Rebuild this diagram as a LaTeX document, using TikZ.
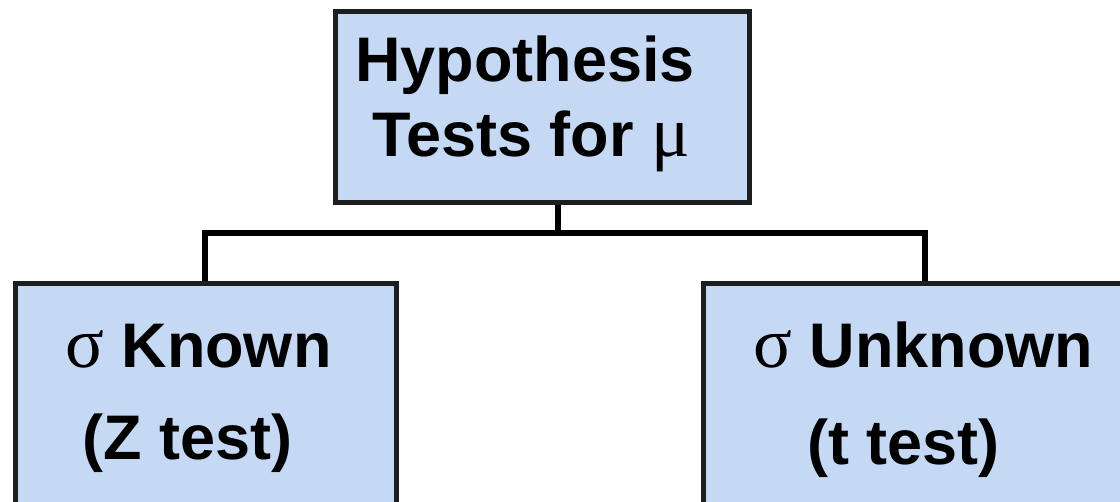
\documentclass[tikz,border=0pt]{standalone}
\usepackage{fontspec}
\setmainfont{Liberation Sans}
\newfontfamily\symfont{Liberation Serif}
\newcommand{\greekch}[1]{{\symfont\mdseries\fontsize{72}{75}\selectfont #1}}
\definecolor{boxfill}{RGB}{198,217,244}
\definecolor{boxline}{RGB}{30,30,30}
\begin{document}
\begin{tikzpicture}[x=1pt,y=-1pt,
  hbox/.style={draw=boxline,fill=boxfill,line width=5pt,line join=miter},
  conn/.style={draw=black,line width=5.5pt},
  lbl/.style={anchor=base west,inner sep=0pt,font=\fontsize{63}{75}\selectfont\bfseries}]
\useasboundingbox (0,0) rectangle (1120,502);
\clip (0,0) rectangle (1120,502);
\node[hbox,minimum width=414pt,minimum height=191pt,anchor=north west,inner sep=0pt] (top) at (333,9) {};
\node[hbox,minimum width=381pt,minimum height=260pt,anchor=north west,inner sep=0pt] (left) at (13,281) {};
\node[hbox,minimum width=440pt,minimum height=260pt,anchor=north west,inner sep=0pt] (right) at (701,281) {};
\node[lbl] (t1) at (355,82) {Hypothesis};
\node[lbl] (t2) at (372,157) {Tests for \greekch{μ}};
\node[lbl] (l1) at (65,368) {\greekch{σ} Known};
\node[lbl] (l2) at (82,460) {(Z test)};
\node[lbl] (r1) at (753,368) {\greekch{σ} Unknown};
\node[lbl] (r2) at (807,465) {(t test)};
\coordinate (jn) at (558,233);
\draw[conn] (top.south -| jn) -- (jn);
\draw[conn] (left.north -| 205,0) |- (jn) -| (right.north -| 925,0);
\end{tikzpicture}
\end{document}
